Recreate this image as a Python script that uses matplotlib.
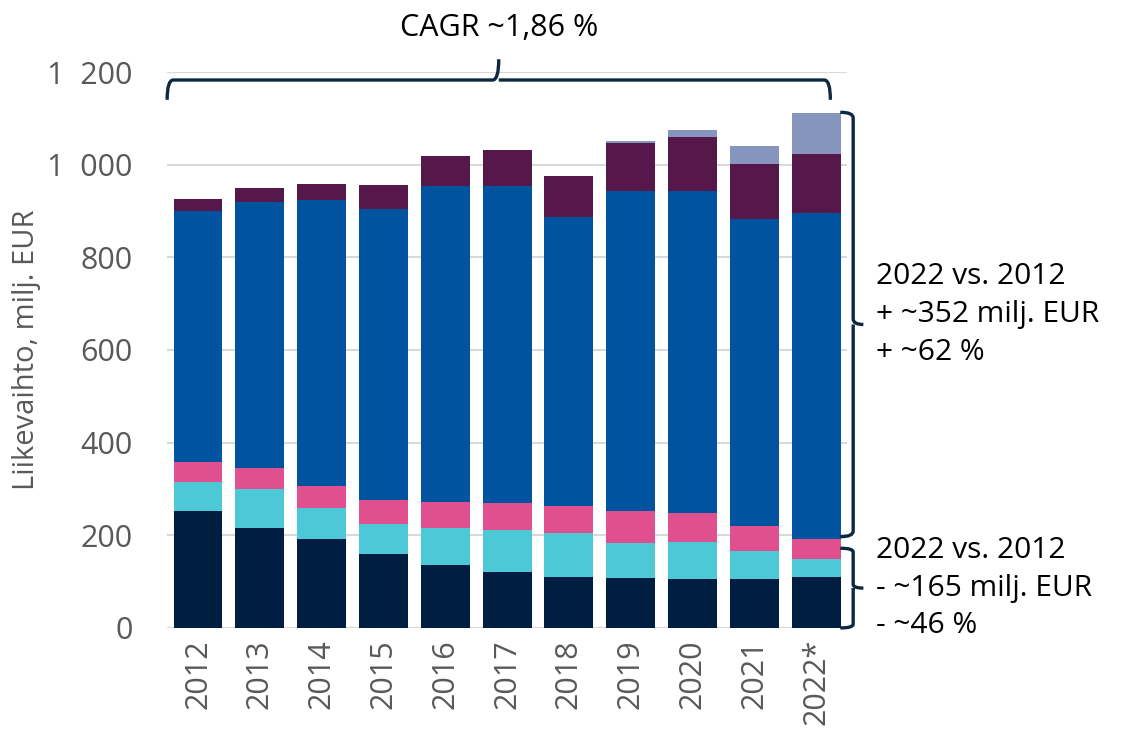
import numpy as np
import matplotlib.pyplot as plt
from matplotlib.path import Path
from matplotlib.patches import PathPatch

plt.rcParams['font.family'] = ['Open Sans', 'DejaVu Sans']

years = ["2012", "2013", "2014", "2015", "2016", "2017",
         "2018", "2019", "2020", "2021", "2022*"]

# stacked segments, bottom to top (milj. EUR)
navy = [253, 215, 193, 160, 136, 120, 110, 108, 106, 105, 111]
cyan = [62, 85, 65, 64, 79, 92, 94, 76, 80, 60, 38]
pink = [43, 46, 48, 52, 57, 58, 59, 69, 63, 56, 43]
blue = [541, 573, 617, 629, 683, 683, 623, 691, 694, 662, 703]
purple = [27, 30, 35, 52, 63, 78, 90, 103, 116, 118, 129]
light = [0, 0, 0, 0, 0, 0, 0, 4, 16, 39, 88]

series = [navy, cyan, pink, blue, purple, light]
colors = ['#001E42', '#4DC8D7', '#E0508E', '#00549F', '#56174B', '#8595BD']

brace_col = '#0E2841'
grey = '#595959'

fig = plt.figure(figsize=(11.37, 7.31), dpi=100)
ax = fig.add_axes([0.147, 0.141, 0.598, 0.7605])

x = np.arange(len(years))
bottom = np.zeros(len(years))
for vals, col in zip(series, colors):
    ax.bar(x, vals, 0.79, bottom=bottom, color=col, zorder=3)
    bottom += np.array(vals)

ax.set_xlim(-0.5, len(years) - 0.5)
ax.set_ylim(0, 1200)
ax.set_yticks(range(0, 1201, 200))
ax.set_yticklabels([f"{v:,}".replace(",", "  ") for v in range(0, 1201, 200)],
                   fontsize=22, color=grey)
ax.set_xticks(x)
ax.set_xticklabels(years, rotation=90, fontsize=22, color=grey)
ax.tick_params(axis='y', length=0, pad=25)
ax.tick_params(axis='x', length=0, pad=8)
ax.grid(axis='y', color='#D9D9D9', linewidth=1.5, zorder=0)
for s in ax.spines.values():
    s.set_visible(False)
ax.set_ylabel("Liikevaihto, milj. EUR", fontsize=21, color=grey, labelpad=4)


def vbrace(y0, y1, x0=0.99, x1=1.009, x2=1.024, r=12):
    # vertical brace, x in axes coords, y in data
    ym = (y0 + y1) / 2
    verts = [(x0, y1), (x1, y1), (x1, y1 - r),
             (x1, ym + r), (x1, ym), (x2, ym),
             (x1, ym), (x1, ym - r),
             (x1, y0 + r), (x1, y0), (x0, y0)]
    codes = [Path.MOVETO, Path.CURVE3, Path.CURVE3,
             Path.LINETO, Path.CURVE3, Path.CURVE3,
             Path.MOVETO, Path.CURVE3,
             Path.LINETO, Path.CURVE3, Path.CURVE3]
    ax.add_patch(PathPatch(Path(verts, codes), fill=False, lw=2.4,
                           ec=brace_col, transform=ax.get_yaxis_transform(),
                           clip_on=False, capstyle='butt', zorder=5))


def hbrace(x0, x1, y0=0.95, y1=0.9856, y2=1.023, r=0.1):
    # horizontal brace, x in data, y in axes coords
    xm = (x0 + x1) / 2
    verts = [(x0, y0), (x0, y1), (x0 + r, y1),
             (xm - r, y1), (xm, y1), (xm, y2),
             (xm, y1), (xm + r, y1),
             (x1 - r, y1), (x1, y1), (x1, y0)]
    codes = [Path.MOVETO, Path.CURVE3, Path.CURVE3,
             Path.LINETO, Path.CURVE3, Path.CURVE3,
             Path.MOVETO, Path.CURVE3,
             Path.LINETO, Path.CURVE3, Path.CURVE3]
    ax.add_patch(PathPatch(Path(verts, codes), fill=False, lw=2.4,
                           ec=brace_col, transform=ax.get_xaxis_transform(),
                           clip_on=False, capstyle='butt', zorder=5))


hbrace(-0.5, 10.23)
ax.text(4.87, 1.079, "CAGR ~1,86 %", transform=ax.get_xaxis_transform(),
        ha='center', va='center', fontsize=22, color='black')

vbrace(197, 1113)
vbrace(0, 172, r=8)

ax.text(1.043, 676, "2022 vs. 2012\n+ ~352 milj. EUR\n+ ~62 %",
        transform=ax.get_yaxis_transform(), ha='left', va='center',
        fontsize=21.5, color='black', linespacing=1.4)
ax.text(1.043, 86, "2022 vs. 2012\n- ~165 milj. EUR\n- ~46 %",
        transform=ax.get_yaxis_transform(), ha='left', va='center',
        fontsize=21.5, color='black', linespacing=1.4)

fig.savefig("out.png", dpi=100)
